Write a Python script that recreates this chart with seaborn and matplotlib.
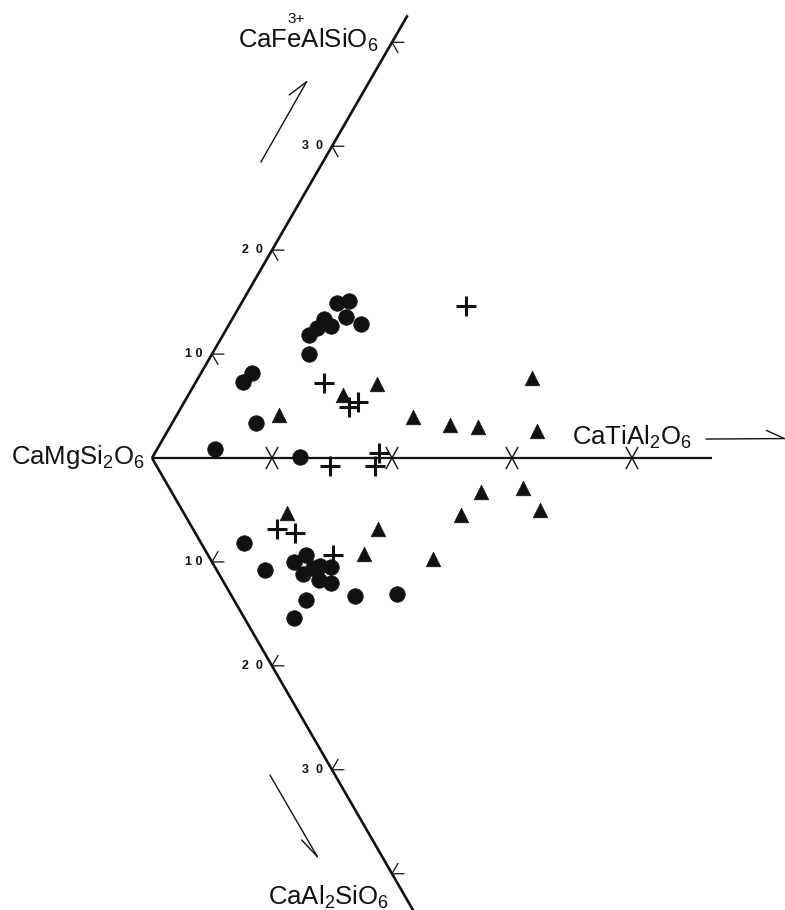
import numpy as np
import pandas as pd
import matplotlib
matplotlib.use("Agg")
import matplotlib.pyplot as plt
import seaborn as sns

# ---------------- data (oblique components, mol %) ----------------
# upper half: (CaTiAl2O6, CaFe3+AlSiO6); lower half: (CaTiAl2O6, CaAl2SiO6)
up_circle_ti = [8.0, 8.9, 7.6, 9.4, 8.6, 7.5, 11.0, 7.2, 8.1, 4.2, 3.9, 7.0, 4.8, 12.3]
up_circle_fe = [14.9, 15.1, 13.4, 13.6, 12.7, 12.5, 12.9, 11.8, 10.0, 8.2, 7.3, 3.4, 0.9, 0.1]
up_tri_ti = [8.5, 12.9, 15.2, 19.8, 23.2, 25.7, 27.8, 30.8]
up_tri_fe = [4.1, 6.1, 7.1, 3.9, 3.2, 3.0, 7.7, 2.6]
up_cross_ti = [18.9, 10.7, 14.0, 14.5, 18.7]
up_cross_fe = [14.6, 7.2, 4.9, 5.4, 0.5]

lo_circle_ti = [3.6, 4.0, 6.8, 8.2, 7.0, 8.1, 8.8, 9.7, 8.1, 8.9, 6.0, 4.1, 10.3, 13.9]
lo_circle_al = [8.2, 10.8, 10.0, 9.3, 11.2, 10.6, 10.4, 10.5, 11.7, 12.0, 13.7, 15.4, 13.3, 13.1]
lo_tri_ti = [8.6, 15.4, 13.1, 18.6, 23.0, 25.8, 29.5, 29.8]
lo_tri_al = [5.3, 6.8, 9.2, 9.7, 5.5, 3.3, 2.9, 5.0]
lo_cross_ti = [14.4, 18.2, 7.0, 8.3, 10.4]
lo_cross_al = [0.8, 0.8, 6.8, 7.2, 9.3]

tick_values = [10, 20, 30, 40]
tick_labels = ["1 0", "2  0", "3  0"]
end_upper_head = "CaF"
end_upper = r"CaFeAlSiO$_6$"
end_upper_charge = "3+"
end_lower = r"CaAl$_2$SiO$_6$"
end_left = r"CaMgSi$_2$O$_6$"
end_right = r"CaTiAl$_2$O$_6$"

# ---------------- styling ----------------
sns.set_style("white")
plt.rcParams["font.family"] = ["Liberation Sans", "DejaVu Sans"]
plt.rcParams["mathtext.fontset"] = "custom"
plt.rcParams["mathtext.rm"] = "Liberation Sans"
plt.rcParams["mathtext.it"] = "Liberation Sans"

S60 = np.sin(np.radians(60))
C60 = 0.5


def frame(ti, other, sign, group):
    ti = np.asarray(ti, float)
    other = np.asarray(other, float)
    return pd.DataFrame({"x": ti + C60 * other, "y": sign * S60 * other, "group": group})


df = pd.concat([
    frame(up_circle_ti, up_circle_fe, 1, "circle"),
    frame(lo_circle_ti, lo_circle_al, -1, "circle"),
    frame(up_tri_ti, up_tri_fe, 1, "triangle"),
    frame(lo_tri_ti, lo_tri_al, -1, "triangle"),
    frame(up_cross_ti, up_cross_fe, 1, "cross"),
    frame(lo_cross_ti, lo_cross_al, -1, "cross"),
], ignore_index=True)

fig = plt.figure(figsize=(7.85, 9.10), dpi=100)
ax = fig.add_axes([0, 0, 1, 1])
PX = 12.0
ax.set_xlim(-152 / PX, (785 - 152) / PX)
ax.set_ylim(-(910 - 458) / PX, 458 / PX)
ax.axis("off")

ink = "#111111"

# axes lines
Lup, Llo, Lh = 42.6, 45.0, 46.7
ax.plot([0, C60 * Lup], [0, S60 * Lup], color=ink, lw=1.9, solid_capstyle="butt")
ax.plot([0, C60 * Llo], [0, -S60 * Llo], color=ink, lw=1.9, solid_capstyle="butt")
ax.plot([0, Lh], [0, 0], color=ink, lw=1.6, solid_capstyle="butt")

# ticks on oblique axes ("<" shaped) and X ticks on horizontal axis
arm = 1.0
for i, v in enumerate(tick_values):
    for sign in (1, -1):
        vx, vy = C60 * v, sign * S60 * v
        ax.plot([vx + arm, vx, vx + arm * C60], [vy, vy, vy - sign * arm * S60],
                color=ink, lw=0.9)
        if i < len(tick_labels):
            ax.text(vx - 0.75, vy, tick_labels[i], ha="right", va="center",
                    fontsize=9, fontweight="bold", color=ink)
    ax.plot([v - 0.5, v + 0.5], [-0.9, 0.9], color=ink, lw=1.0)
    ax.plot([v - 0.5, v + 0.5], [0.9, -0.9], color=ink, lw=1.0)

# data markers
sns.scatterplot(data=df[df.group == "circle"], x="x", y="y", marker="o", s=125,
                color=ink, edgecolor=ink, linewidth=0.5, ax=ax, legend=False, zorder=3)
sns.scatterplot(data=df[df.group == "triangle"], x="x", y="y", marker="^", s=110,
                color=ink, edgecolor=ink, linewidth=0.5, ax=ax, legend=False, zorder=3)
sns.scatterplot(data=df[df.group == "cross"], x="x", y="y", marker="+", s=190,
                color=ink, linewidth=2.2, ax=ax, legend=False, zorder=3)

# end-member labels
fs = 18.5
x0, y0 = 7.17, 34.17
ax.text(x0, y0, end_upper, ha="left", va="baseline", fontsize=fs, color=ink)
# place the "3+" charge above the "e" of Fe
renderer = fig.canvas.get_renderer()
tmp1 = ax.text(0, 0, end_upper_head, fontsize=fs)
tmp2 = ax.text(0, 0, end_upper_head + "e", fontsize=fs)
w1 = tmp1.get_window_extent(renderer).width
w2 = tmp2.get_window_extent(renderer).width
tmp1.remove()
tmp2.remove()
e_center = x0 + (w1 + w2) / 2 / PX
ax.text(e_center + 0.15, y0 + 2.1, end_upper_charge, ha="center", va="baseline",
        fontsize=11, color=ink)
ax.text(-0.55, -0.5, end_left, ha="right", va="baseline", fontsize=fs, color=ink)
ax.text(35.0, 1.08, end_right, ha="left", va="baseline", fontsize=fs, color=ink)
ax.text(9.67, -37.25, end_lower, ha="left", va="baseline", fontsize=fs, color=ink)

# direction arrows
ax.plot([9.08, 12.89], [24.67, 31.36], color=ink, lw=1.0)
ax.plot([11.44, 12.89], [30.25, 31.36], color=ink, lw=1.0)
ax.plot([9.83, 13.78], [-26.42, -33.22], color=ink, lw=1.0)
ax.plot([12.47, 13.78], [-31.83, -33.22], color=ink, lw=1.0)
ax.plot([46.17, 52.7], [1.58, 1.62], color=ink, lw=1.0)
ax.plot([51.2, 52.7], [2.3, 1.62], color=ink, lw=1.0)

fig.savefig("out.png", dpi=100)
